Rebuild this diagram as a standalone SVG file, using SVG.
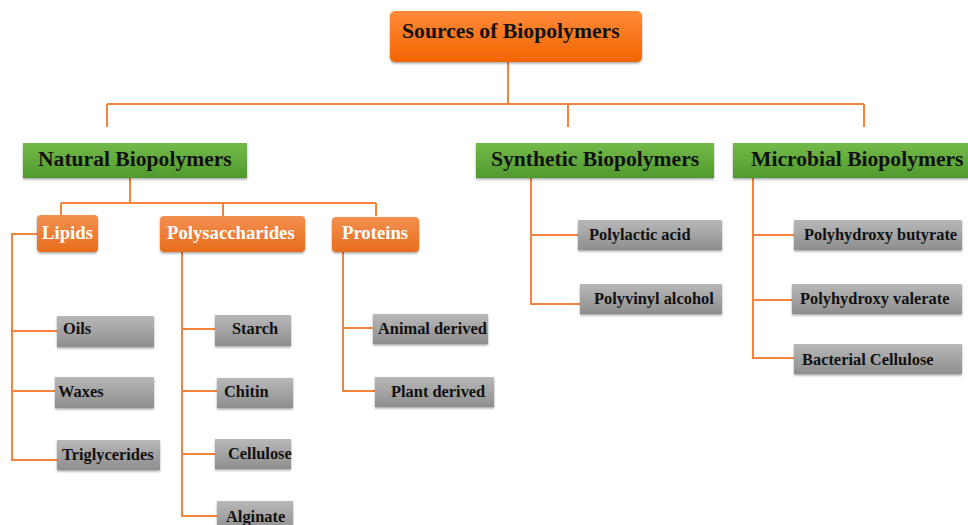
<svg xmlns="http://www.w3.org/2000/svg" width="968" height="525" viewBox="0 0 968 525">
<defs>
<linearGradient id="gRoot" x1="0" y1="0" x2="0" y2="1"><stop offset="0" stop-color="#ff8a3a"/><stop offset="1" stop-color="#f26400"/></linearGradient>
<linearGradient id="gOr" x1="0" y1="0" x2="0" y2="1"><stop offset="0" stop-color="#f39050"/><stop offset="1" stop-color="#e86d1c"/></linearGradient>
<linearGradient id="gGr" x1="0" y1="0" x2="0" y2="1"><stop offset="0" stop-color="#74ba4a"/><stop offset="1" stop-color="#4f9a2d"/></linearGradient>
<linearGradient id="gGy" x1="0" y1="0" x2="0" y2="1"><stop offset="0" stop-color="#b8b8b8"/><stop offset="1" stop-color="#8e8e8e"/></linearGradient>
<filter id="sh" x="-10%" y="-10%" width="120%" height="140%"><feDropShadow dx="0" dy="1.5" stdDeviation="1" flood-color="#000" flood-opacity="0.35"/></filter>
</defs>
<style>
text{font-family:"Liberation Serif","Times New Roman",serif;font-weight:bold;fill:#111}
.root{fill:url(#gRoot);filter:url(#sh)}
.cat{fill:url(#gGr);filter:url(#sh)}
.sub{fill:url(#gOr);filter:url(#sh)}
.leaf{fill:url(#gGy);filter:url(#sh)}
.h1{font-size:21.7px}
.h2{font-size:21.6px}
.h3{font-size:18.7px;fill:#fff}
.lf{font-size:16.4px}
.con path{fill:none;stroke:#f4843c;stroke-width:2}
</style>
<g class="con">
<path d="M508 62V104M107 104H864M107 104V127M568 104V127M864 104V127"/>
<path d="M130 178V203M61 203H376M61 203V216M223 203V216M376 203V216"/>
<path d="M37 234H12V460H57M12 331H57M12 391H55"/>
<path d="M182 252V516H217M182 329H215M182 391H217M182 454H215"/>
<path d="M343 252V391H375M343 328H373"/>
<path d="M531 178V304H580M531 235H578"/>
<path d="M753 178V358H794M753 235H794M753 300H792"/>
</g>
<g id="root"><rect class="root" x="390" y="11" width="252" height="51" rx="5"/><text class="h1" x="402" y="38">Sources of Biopolymers</text></g>
<g id="natural"><rect class="cat" x="23" y="143" width="224" height="35"/><text class="h2" x="38" y="166">Natural Biopolymers</text></g>
<g id="synthetic"><rect class="cat" x="476" y="143" width="238" height="35"/><text class="h2" x="491" y="166">Synthetic Biopolymers</text></g>
<g id="microbial"><rect class="cat" x="733" y="143" width="240" height="35"/><text class="h2" x="751" y="166">Microbial Biopolymers</text></g>
<g id="lipids"><rect class="sub" x="37" y="215" width="61" height="37" rx="4"/><text class="h3" x="42" y="239">Lipids</text></g>
<g id="polysaccharides"><rect class="sub" x="160" y="216" width="145" height="36" rx="4"/><text class="h3" x="167" y="239">Polysaccharides</text></g>
<g id="proteins"><rect class="sub" x="332" y="217" width="87" height="35" rx="4"/><text class="h3" x="342" y="239">Proteins</text></g>
<g id="oils"><rect class="leaf" x="57" y="316" width="97" height="31"/><text class="lf" x="63" y="334">Oils</text></g>
<g id="waxes"><rect class="leaf" x="55" y="377" width="99" height="31"/><text class="lf" x="58" y="397">Waxes</text></g>
<g id="triglycerides"><rect class="leaf" x="57" y="440" width="103" height="30"/><text class="lf" x="62" y="460">Triglycerides</text></g>
<g id="starch"><rect class="leaf" x="215" y="315" width="76" height="31"/><text class="lf" x="232" y="334">Starch</text></g>
<g id="chitin"><rect class="leaf" x="217" y="378" width="76" height="30"/><text class="lf" x="224" y="397">Chitin</text></g>
<g id="cellulose"><rect class="leaf" x="215" y="439" width="76" height="30"/><text class="lf" x="228" y="459">Cellulose</text></g>
<g id="alginate"><rect class="leaf" x="217" y="501" width="76" height="30"/><text class="lf" x="226" y="522">Alginate</text></g>
<g id="animal"><rect class="leaf" x="373" y="314" width="115" height="30"/><text class="lf" x="378" y="334">Animal derived</text></g>
<g id="plant"><rect class="leaf" x="375" y="377" width="119" height="30"/><text class="lf" x="391" y="397">Plant derived</text></g>
<g id="polylactic"><rect class="leaf" x="578" y="220" width="144" height="30"/><text class="lf" x="589" y="240">Polylactic acid</text></g>
<g id="polyvinyl"><rect class="leaf" x="580" y="284" width="142" height="30"/><text class="lf" x="594" y="304">Polyvinyl alcohol</text></g>
<g id="phb"><rect class="leaf" x="794" y="220" width="168" height="30"/><text class="lf" x="804" y="240">Polyhydroxy butyrate</text></g>
<g id="phv"><rect class="leaf" x="792" y="284" width="170" height="30"/><text class="lf" x="800" y="304">Polyhydroxy valerate</text></g>
<g id="bacterial"><rect class="leaf" x="794" y="344" width="168" height="30"/><text class="lf" x="802" y="365">Bacterial Cellulose</text></g>
</svg>
